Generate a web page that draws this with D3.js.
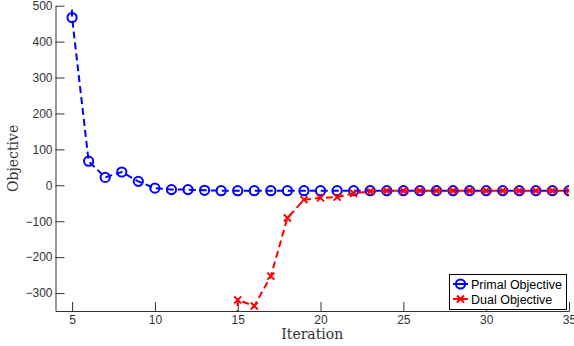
<!DOCTYPE html>
<html>
<head>
<meta charset="utf-8">
<script src="https://cdn.jsdelivr.net/npm/d3@7"></script>
<style>
  body { margin: 0; background: #fff; }
  svg { display: block; }
</style>
</head>
<body>
<div id="chart"></div>
<script>
// iterations and objective values
var primalIter = [4, 5, 6, 7, 8, 9, 10, 11, 12, 13, 14, 15, 16, 17, 18, 19, 20, 21, 22, 23, 24, 25, 26, 27, 28, 29, 30, 31, 32, 33, 34, 35];
var primalVals = [3000, 467, 67, 22, 37, 11, -8, -12, -12, -14, -15, -15, -15, -15, -15, -15, -15, -15, -15, -15, -15, -15, -15, -15, -15, -15, -15, -15, -15, -15, -15, -15];
var dualIter = [14, 15, 16, 17, 18, 19, 20, 21, 22, 23, 24, 25, 26, 27, 28, 29, 30, 31, 32, 33, 34, 35];
var dualVals = [-3000, -319, -336, -253, -91, -40, -35, -33, -22, -17, -15, -15, -15, -15, -15, -15, -15, -15, -15, -15, -15, -15];
var xTicks = [5, 10, 15, 20, 25, 30, 35];
var yTicks = [-300, -200, -100, 0, 100, 200, 300, 400, 500];
var legendLabels = ['Primal Objective', 'Dual Objective'];

drawChart();

function drawChart() {

    var width = 574;
    var height = 346;
    var mLeft = 55.5, mRight = 569, mTop = 5.7, mBottom = 311;

    var svg = d3.select('#chart')
        .append('svg')
        .attr('width', width)
        .attr('height', height);

    var x = d3.scaleLinear().domain([4, 35]).range([mLeft, mRight]);
    var y = d3.scaleLinear().domain([-350, 500]).range([mBottom, mTop]);

    svg.append('defs').append('clipPath')
        .attr('id', 'plotclip')
        .append('rect')
        .attr('x', mLeft)
        .attr('y', mTop)
        .attr('width', mRight - mLeft)
        .attr('height', mBottom - mTop);

    var axisColor = '#333';

    // ticks point inward, like the original
    var xAxis = svg.append('g')
        .attr('transform', 'translate(0,' + mBottom + ')')
        .call(d3.axisBottom(x).tickValues(xTicks).tickSizeInner(-9).tickSizeOuter(0).tickPadding(4));
    var yAxis = svg.append('g')
        .attr('transform', 'translate(' + mLeft + ',0)')
        .call(d3.axisLeft(y).tickValues(yTicks).tickSizeInner(-9).tickSizeOuter(0).tickPadding(3));

    [xAxis, yAxis].forEach(function(g) {
        g.select('.domain').attr('stroke', axisColor).attr('stroke-width', 1);
        g.selectAll('.tick line').attr('stroke', axisColor).attr('stroke-width', 1);
        g.selectAll('.tick text')
            .attr('fill', '#333')
            .attr('font-family', 'Liberation Sans, Arial, sans-serif')
            .attr('font-size', 12);
    });

    svg.append('text')
        .attr('x', (mLeft + mRight) / 2)
        .attr('y', 339)
        .attr('text-anchor', 'middle')
        .attr('font-family', 'DejaVu Serif, Liberation Serif, serif')
        .attr('font-size', 14)
        .attr('fill', '#333')
        .text('Iteration');

    svg.append('text')
        .attr('transform', 'translate(18,' + ((mTop + mBottom) / 2) + ') rotate(-90)')
        .attr('text-anchor', 'middle')
        .attr('font-family', 'DejaVu Serif, Liberation Serif, serif')
        .attr('font-size', 14)
        .attr('fill', '#333')
        .text('Objective');

    var plot = svg.append('g').attr('clip-path', 'url(#plotclip)');

    var line = d3.line()
        .x(function(d) { return x(d[0]); })
        .y(function(d) { return y(d[1]); });

    var primal = d3.zip(primalIter, primalVals);
    var dual = d3.zip(dualIter, dualVals);

    plot.append('path')
        .datum(primal)
        .attr('d', line)
        .attr('fill', 'none')
        .attr('stroke', '#0000ff')
        .attr('stroke-width', 2)
        .attr('stroke-dasharray', '7,4');

    plot.selectAll('circle.primal')
        .data(primal)
        .enter()
        .append('circle')
        .attr('class', 'primal')
        .attr('cx', function(d) { return x(d[0]); })
        .attr('cy', function(d) { return y(d[1]); })
        .attr('r', 4.6)
        .attr('fill', 'none')
        .attr('stroke', '#0000ff')
        .attr('stroke-width', 2);

    plot.append('path')
        .datum(dual)
        .attr('d', line)
        .attr('fill', 'none')
        .attr('stroke', '#ff0000')
        .attr('stroke-width', 2)
        .attr('stroke-dasharray', '7,4');

    var cross = 'M-3.5,-3.5L3.5,3.5M-3.5,3.5L3.5,-3.5';
    plot.selectAll('path.dual')
        .data(dual)
        .enter()
        .append('path')
        .attr('class', 'dual')
        .attr('transform', function(d) { return 'translate(' + x(d[0]) + ',' + y(d[1]) + ')'; })
        .attr('d', cross)
        .attr('stroke', '#ff0000')
        .attr('stroke-width', 2);

    // legend
    var legend = svg.append('g');
    legend.append('rect')
        .attr('x', 449.5)
        .attr('y', 274.5)
        .attr('width', 117)
        .attr('height', 35)
        .attr('fill', '#fff')
        .attr('stroke', '#000')
        .attr('stroke-width', 1);

    var colors = ['#0000ff', '#ff0000'];
    legendLabels.forEach(function(lab, i) {
        var cy = 284 + i * 15;
        legend.append('line')
            .attr('x1', 453).attr('x2', 468)
            .attr('y1', cy).attr('y2', cy)
            .attr('stroke', colors[i])
            .attr('stroke-width', 2);
        if (i === 0) {
            legend.append('circle')
                .attr('cx', 460.5).attr('cy', cy).attr('r', 4.6)
                .attr('fill', 'none').attr('stroke', colors[i]).attr('stroke-width', 2);
        } else {
            legend.append('path')
                .attr('transform', 'translate(460.5,' + cy + ')')
                .attr('d', cross)
                .attr('stroke', colors[i]).attr('stroke-width', 2);
        }
        legend.append('text')
            .attr('x', 471)
            .attr('y', cy + 4.5)
            .attr('font-family', 'Liberation Sans, Arial, sans-serif')
            .attr('font-size', 12.5)
            .attr('fill', '#000')
            .text(lab);
    });
}
</script>
</body>
</html>
